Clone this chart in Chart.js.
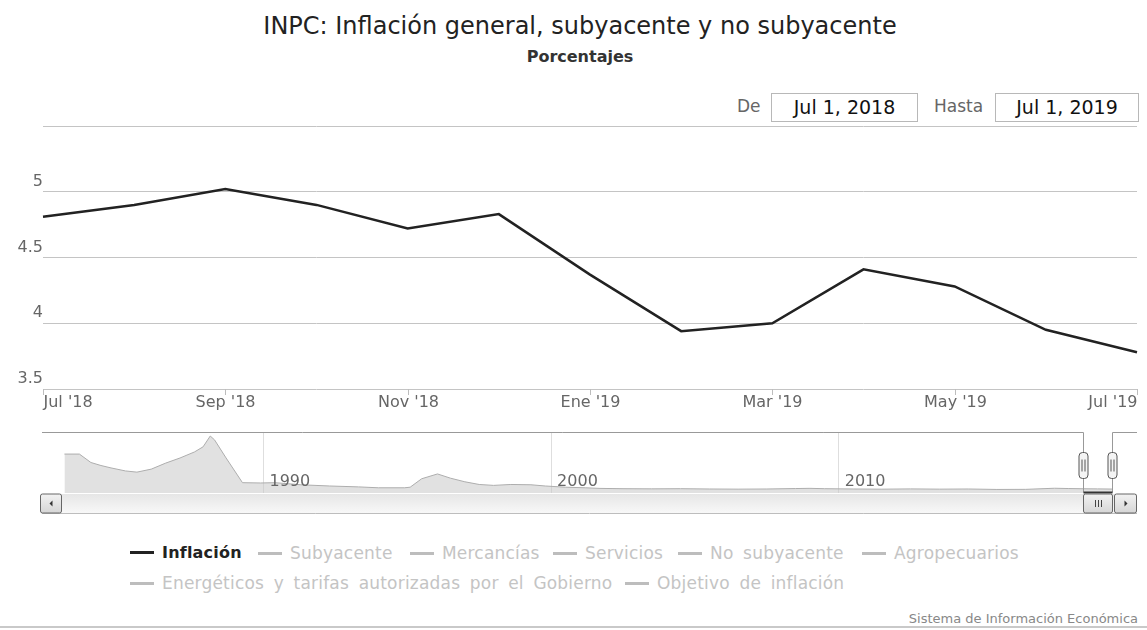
<!DOCTYPE html>
<html><head><meta charset="utf-8">
<script src="https://cdn.jsdelivr.net/npm/chart.js@4.4.1/dist/chart.umd.min.js"></script>
<style>
html,body{margin:0;padding:0;background:#fff;}
body{width:1147px;height:630px;position:relative;overflow:hidden;font-family:"DejaVu Sans",sans-serif;}
.abs{position:absolute;white-space:nowrap;}
#title{left:0;width:1160px;top:12px;text-align:center;font-size:24px;color:#222;}
#subtitle{left:0;width:1160px;top:47px;text-align:center;font-size:16px;font-weight:bold;color:#333;}
.lbl{font-size:17px;color:#666;top:96px;}
.box{top:93px;height:27px;border:1px solid #b8b8b8;font-size:19px;color:#111;text-align:center;line-height:27px;background:#fff;}
.leg{font-size:17px;color:#c4c4c4;line-height:20px;word-spacing:4px;letter-spacing:0.2px;}
.leg .mk{display:inline-block;width:24px;height:3px;background:#bdbdbd;vertical-align:middle;margin-right:8px;position:relative;top:-1px;}
.leg.on{color:#222;font-weight:bold;font-size:16px;letter-spacing:0.2px;}
.leg.on .mk{background:#222;}
#credits{right:9px;top:611px;font-size:13px;color:#888;}
#frame{left:0;width:1147px;top:626px;height:0;border-top:2px solid #c9c9c9;}
canvas{position:absolute;left:0;}
</style></head>
<body>
<div id="title" class="abs"></div>
<div id="subtitle" class="abs"></div>
<div class="abs lbl" id="lblDe" style="left:737px;"></div>
<div class="abs box" id="boxDe" style="left:771px;width:145px;"></div>
<div class="abs lbl" id="lblHasta" style="left:934px;"></div>
<div class="abs box" id="boxHasta" style="left:995px;width:142px;"></div>
<canvas id="main" width="1147" height="420" style="top:0;width:1147px;height:420px;"></canvas>
<canvas id="nav" width="1147" height="110" style="top:420px;width:1147px;height:110px;"></canvas>
<div id="legend"></div>
<div id="credits" class="abs"></div>
<div id="frame" class="abs"></div>
<script>
// ---- data ----
const titleText = "INPC: Inflación general, subyacente y no subyacente";
const subtitleText = "Porcentajes";
const months = ["Jul '18","Ago '18","Sep '18","Oct '18","Nov '18","Dic '18","Ene '19","Feb '19","Mar '19","Abr '19","May '19","Jun '19","Jul '19"];
const inflacion = [4.81, 4.90, 5.02, 4.90, 4.72, 4.83, 4.37, 3.94, 4.00, 4.41, 4.28, 3.95, 3.78];
const yTicks = [3.5, 4, 4.5, 5, 5.5];
const navYears = [1983.08,1983.6,1984.0,1984.35,1984.7,1985.2,1985.6,1986.1,1986.6,1987.1,1987.6,1987.9,1988.15,1988.3,1988.7,1989.27,1989.9,1990.4,1991.3,1992.3,1993.3,1994.0,1994.9,1995.1,1995.5,1996.05,1996.5,1997.0,1997.5,1998.0,1998.6,1999.3,1999.8,2000.5,2001.2,2001.7,2002.5,2003.5,2004.5,2005.5,2006.5,2007.5,2008.5,2009.0,2009.5,2010.5,2011.5,2012.5,2013.5,2014.5,2015.5,2016.5,2017.5,2018.0,2018.5,2019.0,2019.5];
const navValues = [120,120,92,82,74,64,60,70,90,107,127,144,180,167,107,25,24,25,18,14,11,8,8,10,38,54,40,28,19,16,19,18,14,10,8,6,5,4.5,5,4,3.5,4,5.5,6.2,5,4,3.4,4.3,3.5,4,2.5,2.8,6.5,5.5,4.8,4.4,3.8];
const navTickYears = [1990, 2000, 2010];
const legendNames = ["Inflación","Subyacente","Mercancías","Servicios","No subyacente","Agropecuarios","Energéticos y tarifas autorizadas por el Gobierno","Objetivo de inflación"];
const rangeLabels = ["De", "Hasta"];
const rangeFrom = "Jul 1, 2018", rangeTo = "Jul 1, 2019";
const selFrom = 2018.5, selTo = 2019.5;
const creditsText = "Sistema de Información Económica";

// ---- layout (styles only) ----
const legendLayout = [[130,543],[258,543],[410,543],[553,543],[678,543],[862,543],[130,573],[625,573]];

document.getElementById('title').textContent = titleText;
document.getElementById('subtitle').textContent = subtitleText;
document.getElementById('lblDe').textContent = rangeLabels[0];
document.getElementById('lblHasta').textContent = rangeLabels[1];
document.getElementById('boxDe').textContent = rangeFrom;
document.getElementById('boxHasta').textContent = rangeTo;
document.getElementById('credits').textContent = creditsText;
const leg = document.getElementById('legend');
legendNames.forEach((n,i)=>{
  const d = document.createElement('div');
  d.className = 'abs leg' + (i===0?' on':'');
  d.style.left = legendLayout[i][0]+'px';
  d.style.top = legendLayout[i][1]+'px';
  const mk = document.createElement('span'); mk.className='mk';
  d.appendChild(mk);
  d.appendChild(document.createTextNode(n));
  leg.appendChild(d);
});

const FONT = '"DejaVu Sans"';

const xLabelPlugin = {
  id: 'xlab',
  afterDraw(chart){
    const {ctx, chartArea, scales:{x}} = chart;
    ctx.save();
    ctx.font = '16px ' + FONT;
    ctx.fillStyle = '#666';
    ctx.textBaseline = 'middle';
    ctx.strokeStyle = '#bdbdbd';
    ctx.lineWidth = 1;
    months.forEach((m,i)=>{
      if (i % 2) return;
      const px = Math.round(x.getPixelForValue(i)) + 0.5;
      ctx.beginPath(); ctx.moveTo(px, chartArea.bottom); ctx.lineTo(px, chartArea.bottom + 6); ctx.stroke();
      ctx.textAlign = i===0 ? 'left' : (i===months.length-1 ? 'right' : 'center');
      ctx.fillText(m, px, chartArea.bottom + 14);
    });
    ctx.restore();
  }
};

new Chart(document.getElementById('main'), {
  type: 'line',
  data: { labels: months, datasets: [{ data: inflacion, borderColor: '#222', borderWidth: 2.5, pointRadius: 0, tension: 0, fill: false }] },
  options: {
    responsive: false, animation: false,
    layout: { padding: { left: 0, right: 10, top: 126, bottom: 31 } },
    plugins: { legend: { display: false }, tooltip: { enabled: false } },
    scales: {
      x: { type: 'category', offset: false, display: false },
      y: {
        min: 3.5, max: 5.5,
        afterBuildTicks: s => { s.ticks = yTicks.map(v => ({ value: v })); },
        afterFit: s => { s.width = 43; },
        grid: { color: '#c4c4c4', lineWidth: 1, drawTicks: false },
        border: { display: false },
        ticks: { padding: 0, labelOffset: -10, color: '#666', font: { family: 'DejaVu Sans', size: 16 },
          callback: v => (v === 5.5 ? '' : String(v)) }
      }
    }
  },
  plugins: [xLabelPlugin]
});

function rrect(ctx, x, y, w, h, r){
  ctx.beginPath();
  ctx.moveTo(x+r, y); ctx.lineTo(x+w-r, y); ctx.quadraticCurveTo(x+w, y, x+w, y+r);
  ctx.lineTo(x+w, y+h-r); ctx.quadraticCurveTo(x+w, y+h, x+w-r, y+h);
  ctx.lineTo(x+r, y+h); ctx.quadraticCurveTo(x, y+h, x, y+h-r);
  ctx.lineTo(x, y+r); ctx.quadraticCurveTo(x, y, x+r, y);
  ctx.closePath();
}

const navPlugin = {
  id: 'navdeco',
  afterDraw(chart){
    const {ctx, chartArea: ca, scales:{x}} = chart;
    ctx.save();
    ctx.font = '16px ' + FONT; ctx.fillStyle = '#666'; ctx.textBaseline = 'middle'; ctx.textAlign = 'left';
    navTickYears.forEach(yr => { ctx.fillText(String(yr), x.getPixelForValue(yr) + 6, ca.bottom - 11); });
    const hL = Math.round(x.getPixelForValue(selFrom)) + 0.5;
    const hR = Math.round(x.getPixelForValue(selTo)) + 0.5;
    const top = Math.round(ca.top) + 0.5, bot = Math.round(ca.bottom) - 0.5;
    const sTop = bot + 1.5, sH = 19;
    const g = ctx.createLinearGradient(0, sTop, 0, sTop + sH);
    g.addColorStop(0, '#e6e6e6'); g.addColorStop(1, '#f8f8f8');
    ctx.fillStyle = g; ctx.fillRect(ca.left, sTop, ca.right - ca.left, sH);
    ctx.strokeStyle = '#bdbdbd'; ctx.lineWidth = 1;
    ctx.beginPath(); ctx.moveTo(ca.left, sTop + sH + 0.5); ctx.lineTo(ca.right, sTop + sH + 0.5); ctx.stroke();
    ctx.strokeStyle = '#999'; ctx.lineWidth = 1;
    ctx.beginPath();
    ctx.moveTo(ca.left, top); ctx.lineTo(hL, top); ctx.lineTo(hL, bot); ctx.stroke();
    ctx.beginPath(); ctx.moveTo(hR, bot); ctx.lineTo(hR, top); ctx.lineTo(ca.right, top); ctx.stroke();
    ctx.strokeStyle = '#333'; ctx.lineWidth = 2;
    ctx.beginPath(); ctx.moveTo(hL, bot); ctx.lineTo(hR, bot); ctx.stroke();
    [hL, hR].forEach(hx => {
      rrect(ctx, hx - 4.5, top + 20, 9, 26, 3.5);
      ctx.fillStyle = '#f4f4f4'; ctx.fill();
      ctx.strokeStyle = '#555'; ctx.lineWidth = 1; ctx.stroke();
      ctx.beginPath(); ctx.moveTo(hx - 1.5, top + 27); ctx.lineTo(hx - 1.5, top + 39);
      ctx.moveTo(hx + 1.5, top + 27); ctx.lineTo(hx + 1.5, top + 39); ctx.stroke();
    });
    const btn = (bx, w) => {
      rrect(ctx, bx, sTop, w, sH, 2);
      const bg = ctx.createLinearGradient(0, sTop, 0, sTop + sH);
      bg.addColorStop(0, '#f2f2f2'); bg.addColorStop(1, '#d6d6d6');
      ctx.fillStyle = bg; ctx.fill(); ctx.strokeStyle = '#666'; ctx.lineWidth = 1; ctx.stroke();
    };
    const lb = Math.round(ca.left) - 1.5;
    btn(lb, 21);
    ctx.fillStyle = '#333';
    ctx.beginPath(); ctx.moveTo(lb + 12, sTop + 6.5); ctx.lineTo(lb + 12, sTop + 12.5); ctx.lineTo(lb + 9, sTop + 9.5); ctx.closePath(); ctx.fill();
    const rb = Math.round(ca.right) - 22.5;
    btn(rb, 22);
    ctx.fillStyle = '#333';
    ctx.beginPath(); ctx.moveTo(rb + 10, sTop + 6.5); ctx.lineTo(rb + 10, sTop + 12.5); ctx.lineTo(rb + 13, sTop + 9.5); ctx.closePath(); ctx.fill();
    btn(hL, hR - hL);
    ctx.strokeStyle = '#444'; ctx.lineWidth = 1;
    const cx = Math.round((hL + hR) / 2) + 0.5;
    ctx.beginPath();
    [-3, 0, 3].forEach(d => { ctx.moveTo(cx + d, sTop + 6); ctx.lineTo(cx + d, sTop + 13); });
    ctx.stroke();
    ctx.restore();
  }
};

new Chart(document.getElementById('nav'), {
  type: 'line',
  data: { datasets: [{ data: navYears.map((yr, i) => ({ x: yr, y: navValues[i] })),
    borderColor: '#adadad', borderWidth: 1, backgroundColor: 'rgba(200,200,200,0.55)', fill: 'start', pointRadius: 0, tension: 0 }] },
  options: {
    responsive: false, animation: false,
    layout: { padding: { left: 42, right: 10, top: 12, bottom: 37 } },
    plugins: { legend: { display: false }, tooltip: { enabled: false } },
    scales: {
      x: { type: 'linear', min: 1982.3, max: 2020.37,
        afterBuildTicks: s => { s.ticks = navTickYears.map(v => ({ value: v })); },
        ticks: { display: false },
        grid: { color: '#dedede', drawTicks: false },
        border: { display: false } },
      y: { min: -9.3, max: 193.3, display: false }
    }
  },
  plugins: [navPlugin]
});
</script>
</body></html>
